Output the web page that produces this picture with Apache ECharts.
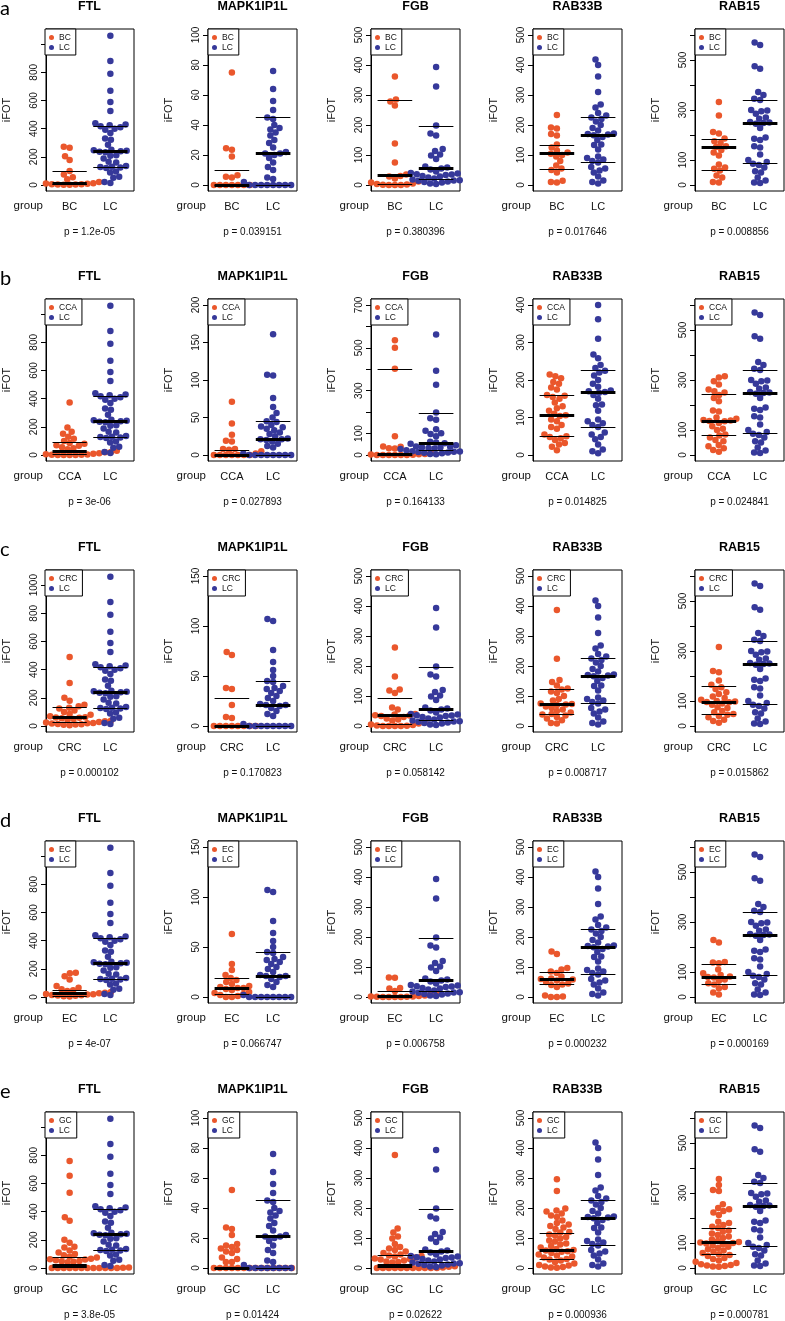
<!DOCTYPE html>
<html><head><meta charset="utf-8">
<script src="https://cdn.jsdelivr.net/npm/echarts@6/dist/echarts.min.js"></script>
<style>html,body{margin:0;padding:0;background:#fff}#c{width:785px;height:1321px}</style>
</head><body><div id="c"></div>
<script>
// ---------------- DATA ----------------
const genes = ['FTL', 'MAPK1IP1L', 'FGB', 'RAB33B', 'RAB15'];
const rowLetters = ['a', 'b', 'c', 'd', 'e'];
const groups = ['BC', 'CCA', 'CRC', 'EC', 'GC'];
const pValues = [
  ['1.2e-05', '0.039151', '0.380396', '0.017646', '0.008856'],
  ['3e-06', '0.027893', '0.164133', '0.014825', '0.024841'],
  ['0.000102', '0.170823', '0.058142', '0.008717', '0.015862'],
  ['4e-07', '0.066747', '0.006758', '0.000232', '0.000169'],
  ['3.8e-05', '0.01424', '0.02622', '0.000936', '0.000781']
];

// LC (shared reference group) values per gene
const lcFTL = [1060, 880, 790, 670, 590, 525, 438, 430, 424, 418, 410, 400, 392, 370, 330, 322, 285, 250, 246, 243, 240, 236, 232, 212, 208, 188, 165, 160, 135, 130, 127, 124, 120, 95, 88, 58, 52, 22, 15];
const lcMAPK = [76, 64, 56, 50, 45, 44, 40, 38, 37, 35, 33, 30, 28, 25, 22, 21, 21, 20, 18, 15, 12, 10, 5, 4, 2, 0, 0, 0, 0, 0, 0, 0, 0, 0];
const lcFGB = [393, 328, 198, 172, 165, 120, 113, 102, 98, 87, 62, 58, 55, 52, 45, 40, 38, 36, 35, 33, 30, 28, 25, 22, 20, 18, 16, 15, 14, 12, 10, 8, 5, 3];
const lcRAB33B = [418, 400, 362, 310, 268, 258, 240, 232, 225, 220, 212, 200, 190, 182, 172, 170, 168, 166, 160, 150, 135, 133, 118, 95, 90, 85, 80, 75, 60, 55, 48, 42, 28, 15, 10, 5];
const lcRAB15 = [570, 560, 475, 465, 372, 360, 345, 340, 300, 298, 295, 285, 270, 265, 252, 250, 248, 245, 228, 190, 185, 180, 155, 150, 122, 100, 92, 85, 80, 70, 55, 50, 30, 18, 10, 8];
// extra LC values present only in some rows (MAPK1IP1L, FGB)
const lcExtraMAPK = [[], [161, 107, 106], [107, 105], [107, 105], []];
const lcExtraFGB = [[], [562], [], [], []];

// row a: BC
const bcFTL = [272, 265, 205, 178, 100, 75, 55, 40, 30, 22, 16, 12, 10, 8, 6, 5, 4, 3, 2, 1];
const bcMAPK = [75, 24.5, 23.5, 19, 6.5, 5.5, 5, 0, 0, 0, 0, 0, 0, 0];
const bcFGB = [362, 285, 278, 265, 138, 75, 35, 30, 28, 22, 15, 12, 8, 5, 3, 2, 1, 0, 0, 0];
const bcRAB33B = [233, 192, 188, 170, 165, 135, 125, 115, 108, 104, 100, 95, 80, 65, 55, 50, 42, 14, 10, 8];
const bcRAB15 = [332, 278, 212, 206, 186, 175, 168, 155, 152, 140, 130, 118, 82, 70, 65, 58, 38, 30, 12, 10];
// row b: CCA
const ccaFTL = [372, 195, 165, 150, 130, 115, 100, 85, 80, 70, 65, 55, 48, 40, 35, 30, 28, 25, 22, 20, 15, 12, 10, 8, 5, 3, 2, 1, 0, 0, 0, 0];
const ccaMAPK = [71, 42, 27, 19, 18, 8, 8, 7, 5, 3, 2, 0, 0, 0, 0, 0, 0, 0, 0];
const ccaFGB = [535, 500, 402, 88, 40, 38, 32, 30, 15, 10, 8, 5, 4, 3, 2, 1, 0, 0, 0, 0, 0, 0];
const ccaRAB33B = [215, 210, 205, 195, 190, 180, 175, 160, 158, 155, 150, 140, 130, 125, 118, 110, 106, 104, 95, 90, 80, 75, 70, 55, 50, 48, 45, 40, 32, 28, 22, 13];
const ccaRAB15 = [315, 310, 295, 282, 262, 255, 250, 240, 228, 215, 178, 174, 150, 145, 140, 138, 136, 135, 128, 115, 105, 100, 82, 78, 70, 60, 55, 40, 35, 27, 20, 13];
// row c: CRC
const crcFTL = [490, 305, 200, 180, 150, 140, 130, 125, 110, 100, 85, 80, 70, 62, 60, 58, 55, 50, 45, 40, 38, 35, 35, 33, 30, 28, 25, 22, 20, 18, 15, 12, 10, 8, 5];
const crcMAPK = [74, 71, 38, 37, 21, 9, 8, 0, 0, 0, 0, 0, 0, 0, 0, 0, 0];
const crcFGB = [262, 165, 122, 118, 110, 62, 55, 40, 38, 36, 35, 33, 30, 25, 22, 18, 15, 12, 10, 8, 5, 3, 2, 1, 0, 0, 0, 0];
const crcRAB33B = [387, 224, 153, 147, 135, 125, 122, 115, 110, 100, 90, 85, 75, 73, 72, 70, 65, 60, 55, 50, 45, 40, 38, 35, 30, 25, 19, 10, 8];
const crcRAB15 = [316, 220, 215, 182, 165, 155, 148, 135, 128, 118, 112, 105, 100, 98, 96, 95, 90, 85, 75, 72, 60, 55, 48, 45, 40, 35, 25, 20, 13];
// row d: EC
const ecFTL = [172, 168, 148, 125, 78, 65, 55, 48, 42, 36, 33, 30, 28, 26, 24, 22, 20, 18, 15, 12, 10, 8, 5, 3];
const ecMAPK = [63, 33, 27, 22, 19, 17, 15, 13, 11, 10, 9, 9, 8, 7, 5, 4, 3, 2, 1, 0, 0];
const ecFGB = [65, 64, 30, 28, 20, 15, 12, 12, 10, 8, 5, 4, 3, 2, 2, 1, 1, 0, 0, 0, 0];
const ecRAB33B = [152, 143, 97, 92, 85, 80, 68, 62, 60, 58, 55, 50, 45, 42, 40, 33, 5, 2, 0, 0];
const ecRAB15 = [228, 218, 140, 138, 135, 110, 95, 88, 82, 80, 78, 70, 65, 55, 50, 40, 35, 18, 10];
// row e: GC
const gcFTL = [760, 655, 535, 360, 335, 200, 180, 150, 145, 125, 110, 100, 90, 80, 75, 70, 65, 62, 60, 55, 50, 48, 45, 40, 35, 30, 28, 25, 22, 20, 18, 15, 12, 10, 8, 6, 5, 4, 3, 2, 1, 0, 0, 0, 0, 0, 0, 0, 0, 0, 0, 0, 0, 0, 0, 0, 0, 0, 0];
const gcMAPK = [52, 27, 26, 22, 16, 15, 14, 13, 12, 11, 10, 7, 6, 4, 4, 0, 0, 0, 0, 0, 0, 0, 0, 0, 0, 0, 0, 0, 0, 0, 0, 0, 0, 0, 0, 0, 0, 0, 0, 0, 0, 0, 0, 0, 0];
const gcFGB = [377, 132, 118, 105, 98, 80, 70, 65, 60, 55, 50, 45, 42, 40, 38, 36, 35, 32, 30, 28, 25, 22, 20, 18, 15, 12, 10, 8, 8, 6, 5, 4, 3, 2, 1, 0, 0, 0, 0, 0, 0, 0, 0, 0, 0, 0, 0, 0, 0, 0];
const gcRAB33B = [296, 257, 198, 192, 188, 182, 175, 170, 158, 150, 145, 140, 135, 130, 120, 118, 112, 108, 103, 98, 92, 88, 82, 78, 73, 68, 63, 60, 58, 56, 54, 50, 45, 42, 38, 35, 30, 28, 25, 20, 15, 10, 8, 5, 3, 2, 1];
const gcRAB15 = [356, 332, 312, 308, 255, 240, 235, 228, 222, 212, 185, 180, 172, 165, 160, 150, 145, 138, 132, 126, 120, 114, 108, 104, 102, 100, 98, 95, 90, 85, 80, 75, 70, 65, 60, 55, 52, 48, 40, 36, 30, 25, 20, 15, 12, 10, 8, 6, 5];

// quartile lines [25%, median, 75%]
const lcQuart = [[127, 243, 420], [0, 21, 45], [20, 55, 196], [75, 167, 226], [87, 249, 339]];
const groupQuart = [
  [[5, 12, 98], [0, 0, 10], [3, 33, 281], [52, 105, 134], [60, 153, 184]],
  [[5, 29, 91], [0, 0, 6.7], [0, 5, 402], [50, 106, 160], [79, 137, 245]],
  [[24, 60, 131], [0, 0, 28], [5, 35, 93], [38, 72, 122], [46, 97, 160]],
  [[8, 24, 48], [3, 9, 19], [1, 3, 19], [41, 59, 84], [51, 80, 130]],
  [[3, 22, 73], [0, 0, 0], [1, 8, 41], [28, 60, 117], [54, 103, 160]]
];

// y-axis upper limits and tick values
const yTop = [
  [1065, 100, 500, 500, 600],
  [1065, 200, 700, 400, 600],
  [1065, 150, 500, 500, 600],
  [1065, 150, 500, 500, 600],
  [1065, 100, 500, 500, 600]
];
const ticksFTL = [0, 200, 400, 600, 800, 1000];
const ticks100 = [0, 20, 40, 60, 80, 100];
const ticks150 = [0, 50, 100, 150];
const ticks200 = [0, 50, 100, 150, 200];
const ticks500 = [0, 100, 200, 300, 400, 500];
const ticks400 = [0, 100, 200, 300, 400];
const ticks600 = [0, 100, 200, 300, 400, 500, 600];
const ticks700 = [0, 100, 200, 300, 400, 500, 600, 700];
const tickMarks = [
  [ticksFTL, ticks100, ticks500, ticks500, ticks600],
  [ticksFTL, ticks200, ticks700, ticks400, ticks600],
  [ticksFTL, ticks150, ticks500, ticks500, ticks600],
  [ticksFTL, ticks150, ticks500, ticks500, ticks600],
  [ticksFTL, ticks100, ticks500, ticks500, ticks600]
];
const labFTL = [0, 200, 400, 600, 800];
const labFTLc = [0, 200, 400, 600, 800, 1000];
const labOdd = [0, 100, 300, 500];
const labOdd7 = [0, 100, 300, 500, 700];
const tickLabels = [
  [labFTL, ticks100, ticks500, ticks500, labOdd],
  [labFTL, ticks200, labOdd7, ticks400, labOdd],
  [labFTLc, ticks150, ticks500, ticks500, labOdd],
  [labFTL, ticks150, ticks500, ticks500, labOdd],
  [labFTL, ticks100, ticks500, ticks500, labOdd]
];

const cancerData = [
  [bcFTL, bcMAPK, bcFGB, bcRAB33B, bcRAB15],
  [ccaFTL, ccaMAPK, ccaFGB, ccaRAB33B, ccaRAB15],
  [crcFTL, crcMAPK, crcFGB, crcRAB33B, crcRAB15],
  [ecFTL, ecMAPK, ecFGB, ecRAB33B, ecRAB15],
  [gcFTL, gcMAPK, gcFGB, gcRAB33B, gcRAB15]
];
const lcBase = [lcFTL, lcMAPK, lcFGB, lcRAB33B, lcRAB15];
function lcValues(r, c) {
  if (c === 1) return lcMAPK.concat(lcExtraMAPK[r]);
  if (c === 2) return lcFGB.concat(lcExtraFGB[r]);
  return lcBase[c];
}

// ---------------- LAYOUT ----------------
const ROW_TOP = [29, 299, 570, 841, 1112];
const COL_LEFT = [45, 208, 371, 533, 695];
const W = 89, H = 162;
const X_MIN = 0.42, X_MAX = 2.58;
const HALF = 0.42;
const SPACING = 6;
const DOT = 6.5;
const ORANGE = '#EA572C', BLUE = '#36399A';
const FONT = '"Liberation Sans", Arial, Helvetica, sans-serif';

// beeswarm ("swarm") layout: horizontal pixel offsets computed from values
function swarm(values, yppu, s) {
  const order = values.map((v, i) => i).sort((a, b) => values[a] - values[b]);
  const placed = [];
  const out = new Array(values.length);
  for (const i of order) {
    const y = values[i] * yppu;
    const near = placed.filter(p => Math.abs(p.y - y) < s);
    const cands = [0];
    for (const p of near) {
      const dx = Math.sqrt(s * s - (p.y - y) * (p.y - y));
      cands.push(p.x - dx, p.x + dx);
    }
    let best = null;
    for (const c of cands) {
      const ok = near.every(p => (p.x - c) * (p.x - c) + (p.y - y) * (p.y - y) >= s * s - 1e-6);
      if (!ok) continue;
      if (best === null || Math.abs(c) < Math.abs(best) - 1e-9 ||
          (Math.abs(Math.abs(c) - Math.abs(best)) < 1e-9 && c < best)) best = c;
    }
    placed.push({ x: best, y });
    out[i] = best;
  }
  return out;
}

function quartLines(g, q) {
  return q.map((v, k) => [
    { coord: [g - HALF, v], lineStyle: { width: k === 1 ? 3.2 : 1, color: '#000', type: 'solid' } },
    { coord: [g + HALF, v] }
  ]);
}

const grids = [], xAxes = [], yAxes = [], series = [], legends = [], graphics = [];

for (let r = 0; r < 5; r++) {
  const top = ROW_TOP[r];
  const bottom = top + H;
  graphics.push({ type: 'text', x: 0, y: top - 20, style: { text: rowLetters[r], font: '20px Lato, "Open Sans", sans-serif', fill: '#000', align: 'left', textAlign: 'left', verticalAlign: 'middle', textVerticalAlign: 'middle' } });
  for (let c = 0; c < 5; c++) {
    const idx = r * 5 + c;
    const left = COL_LEFT[c];
    const yMax = yTop[r][c] * 1.04, yMin = -yTop[r][c] * 0.04;
    grids.push({ left, top, width: W, height: H, show: true, borderColor: '#000', borderWidth: 1, backgroundColor: 'transparent' });
    xAxes.push({
      gridIndex: idx, type: 'value', min: X_MIN, max: X_MAX,
      axisLine: { show: false }, axisTick: { show: false }, splitLine: { show: false },
      axisLabel: { customValues: [1, 2], formatter: v => (Math.round(v) === 1 ? groups[r] : 'LC'), margin: 10, fontSize: 11, color: '#111', fontFamily: FONT }
    });
    yAxes.push({
      gridIndex: idx, type: 'value', min: yMin, max: yMax,
      axisLine: { show: true, lineStyle: { color: '#000', width: 1 } },
      axisTick: { show: true, inside: false, length: 5, lineStyle: { color: '#000' }, customValues: tickMarks[r][c] },
      axisLabel: { customValues: tickLabels[r][c], formatter: v => String(Math.round(v)), rotate: 90, margin: 7, fontSize: 10, color: '#111', fontFamily: FONT },
      splitLine: { show: false },
      name: 'iFOT', nameLocation: 'middle', nameGap: 34, nameRotate: 90,
      nameTextStyle: { fontSize: 11, color: '#111', fontFamily: FONT }
    });
    const yppu = H / (yMax - yMin), xppu = W / (X_MAX - X_MIN);
    const gv = cancerData[r][c];
    const lv = lcValues(r, c);
    const go = swarm(gv, yppu, SPACING);
    const lo = swarm(lv, yppu, SPACING);
    series.push({
      type: 'scatter', name: groups[r], xAxisIndex: idx, yAxisIndex: idx,
      symbol: 'circle', symbolSize: DOT, clip: true, silent: true,
      itemStyle: { color: ORANGE, opacity: 1 },
      data: gv.map((v, i) => [1 + go[i] / xppu, v]),
      markLine: { silent: true, symbol: ['none', 'none'], label: { show: false }, animation: false, data: quartLines(1, groupQuart[r][c]) }
    });
    series.push({
      type: 'scatter', name: 'LC', xAxisIndex: idx, yAxisIndex: idx,
      symbol: 'circle', symbolSize: DOT, clip: true, silent: true,
      itemStyle: { color: BLUE, opacity: 1 },
      data: lv.map((v, i) => [2 + lo[i] / xppu, v]),
      markLine: { silent: true, symbol: ['none', 'none'], label: { show: false }, animation: false, data: quartLines(2, lcQuart[c]) }
    });
    legends.push({
      data: [groups[r], 'LC'], left: left, top: top, orient: 'vertical',
      icon: 'circle', itemWidth: 5, itemHeight: 5, itemGap: 1,
      padding: [4, 5, 3, 4], borderColor: '#000', borderWidth: 1, borderRadius: 0,
      backgroundColor: '#fff', selectedMode: false, z: 10,
      textStyle: { fontSize: 8.5, color: '#111', fontFamily: FONT }
    });
    const cx = left + W / 2;
    graphics.push({ type: 'text', x: cx, y: top - 22, style: { text: genes[c], font: 'bold 12.5px ' + FONT, fill: '#000', align: 'center', textAlign: 'center', verticalAlign: 'middle', textVerticalAlign: 'middle' } });
    graphics.push({ type: 'text', x: cx, y: bottom + 41, style: { text: 'p = ' + pValues[r][c], font: '10px ' + FONT, fill: '#111', align: 'center', textAlign: 'center', verticalAlign: 'middle', textVerticalAlign: 'middle' } });
    graphics.push({ type: 'text', x: left - 2, y: bottom + 15, style: { text: 'group', font: '11.5px ' + FONT, fill: '#111', align: 'right', textAlign: 'right', verticalAlign: 'middle', textVerticalAlign: 'middle' } });
  }
}

const chart = echarts.init(document.getElementById('c'), null, { renderer: 'canvas', width: 785, height: 1321 });
chart.setOption({
  animation: false,
  backgroundColor: '#fff',
  grid: grids, xAxis: xAxes, yAxis: yAxes, series: series, legend: legends,
  graphic: graphics
});
</script></body></html>
